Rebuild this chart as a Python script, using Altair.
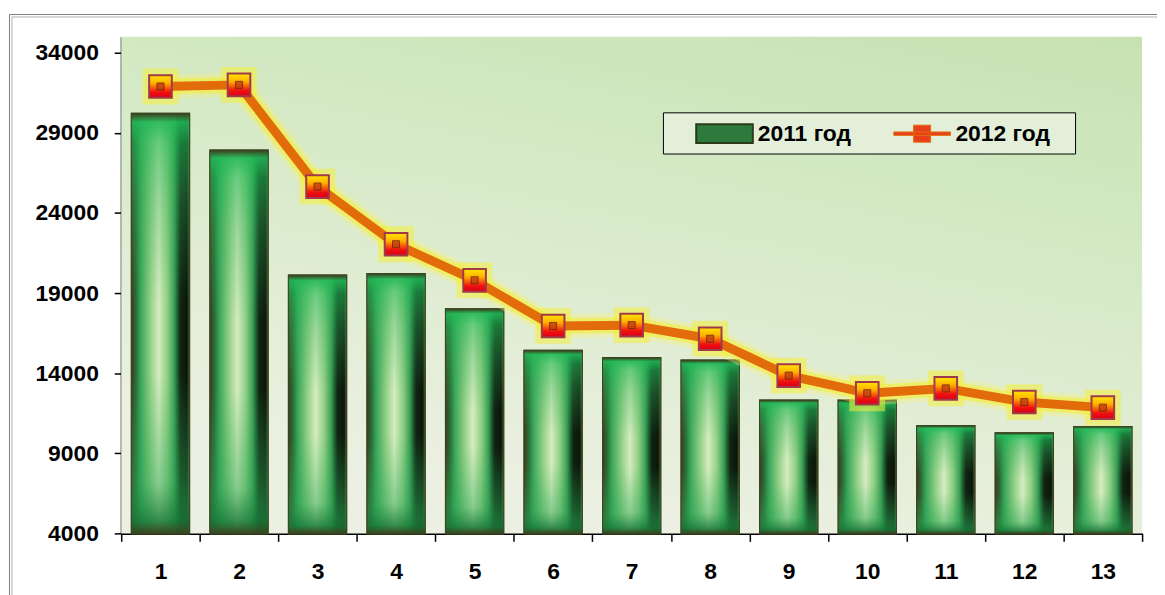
import altair as alt
import pandas as pd

categories = [str(i) for i in range(1, 14)]
values_2011 = [30200, 27900, 20100, 20200, 18000, 15400, 14950, 14800, 12300, 12300, 10700, 10250, 10650]
values_2012 = [31900, 32000, 25650, 22050, 19800, 16950, 17000, 16150, 13850, 12750, 13050, 12200, 11850]
series_names = ["2011 год", "2012 год"]
y_ticks = [4000, 9000, 14000, 19000, 24000, 29000, 34000]

df = pd.DataFrame({
    "cat": categories,
    "v2011": values_2011,
    "v2012": values_2012,
    "s1": series_names[0],
    "s2": series_names[1],
})

W, H = 1028, 500
FONT = "Liberation Sans"
FS = 23

x_enc = alt.X("cat:O", sort=categories, scale=alt.Scale(paddingInner=0, paddingOuter=0),
              axis=alt.Axis(title=None, labelAngle=0, tickBand="extent", tickSize=8, tickWidth=1.5,
                            tickColor="black", domainColor="black", domainWidth=2,
                            labelFont=FONT, labelFontSize=FS, labelFontWeight="bold",
                            labelColor="black", labelPadding=19))
y_scale = alt.Scale(domain=[4000, 35000], nice=False, zero=False)
y_axis = alt.Axis(title=None, values=y_ticks, format="d", grid=False, tickSize=7, tickWidth=1.5,
                  tickColor="black", domainColor="black", domainWidth=2,
                  labelFont=FONT, labelFontSize=FS, labelFontWeight="bold",
                  labelColor="black", labelPadding=16)

base = alt.Chart(df)
one = alt.Data(values=[{"k": 1}])

bg = alt.Chart(one).mark_rect(
    fill=alt.LinearGradient(gradient="linear", x1=1, y1=0, x2=0.6, y2=1,
                            stops=[alt.GradientStop(color="#c7e2b2", offset=0),
                                   alt.GradientStop(color="#d6eac7", offset=0.45),
                                   alt.GradientStop(color="#ecf0e2", offset=1)])
).encode(x=alt.value(0), x2=alt.value(W), y=alt.value(0), y2=alt.value(H))

legend_box = alt.Chart(one).mark_rect(fill="#e3efd8", stroke="black", strokeWidth=1).encode(
    x=alt.value(546), x2=alt.value(961), y=alt.value(76.5), y2=alt.value(118))

BW = alt.RelativeBandSize(0.73)

bars_base = base.mark_bar(width=BW, stroke="#3a4420", strokeWidth=2).encode(
    x=x_enc,
    y=alt.Y("v2011:Q", scale=y_scale, axis=y_axis),
    y2=alt.datum(4000),
    fill=alt.Fill("s1:N", scale=alt.Scale(domain=[series_names[0]], range=["#2c7a3c"]),
                  legend=alt.Legend(title=None, orient="none", legendX=596, legendY=86, padding=0,
                                    symbolType="M-3,-1H3V1H-3Z", symbolSize=361,
                                    symbolStrokeColor="#2d3a18", symbolStrokeWidth=2,
                                    labelFont=FONT, labelFontSize=FS, labelFontWeight="bold",
                                    labelColor="black", labelOffset=22)),
)

bars_grad = base.mark_bar(
    width=BW,
    fill=alt.LinearGradient(gradient="linear", x1=0, y1=0, x2=1, y2=0,
                            stops=[alt.GradientStop(color="#3a4420", offset=0),
                                   alt.GradientStop(color="#2a6a36", offset=0.07),
                                   alt.GradientStop(color="#37a457", offset=0.15),
                                   alt.GradientStop(color="#8fcf85", offset=0.32),
                                   alt.GradientStop(color="#d6ecbf", offset=0.47),
                                   alt.GradientStop(color="#8fcf85", offset=0.62),
                                   alt.GradientStop(color="#3a9e56", offset=0.74),
                                   alt.GradientStop(color="#1c5a2c", offset=0.8),
                                   alt.GradientStop(color="#0f2412", offset=0.85),
                                   alt.GradientStop(color="#0b160a", offset=0.96),
                                   alt.GradientStop(color="#2a3318", offset=1)]),
    stroke="#3a4420", strokeWidth=2,
).encode(x=x_enc, y=alt.Y("v2011:Q", scale=y_scale), y2=alt.datum(4000))

bars_shade = base.mark_bar(
    width=BW,
    fill=alt.LinearGradient(gradient="linear", x1=0, y1=0, x2=0, y2=1,
                            stops=[alt.GradientStop(color="rgba(58,68,32,1)", offset=0),
                                   alt.GradientStop(color="rgba(34,184,88,0.9)", offset=0.02),
                                   alt.GradientStop(color="rgba(34,184,88,0.6)", offset=0.07),
                                   alt.GradientStop(color="rgba(50,175,90,0.35)", offset=0.2),
                                   alt.GradientStop(color="rgba(50,175,90,0.0)", offset=0.45),
                                   alt.GradientStop(color="rgba(50,175,90,0.0)", offset=0.62),
                                   alt.GradientStop(color="rgba(45,165,85,0.45)", offset=0.88),
                                   alt.GradientStop(color="rgba(26,122,58,0.85)", offset=0.97),
                                   alt.GradientStop(color="rgba(58,68,32,1)", offset=1)]),
    strokeWidth=0,
).encode(x=x_enc, y=alt.Y("v2011:Q", scale=y_scale), y2=alt.datum(4000))

glow_wide = base.mark_line(color="#f6f27a", strokeWidth=24, opacity=0.35, strokeJoin="round").encode(
    x=x_enc, y=alt.Y("v2012:Q", scale=y_scale))
glow_line = base.mark_line(color="#f4ee3a", strokeWidth=16, opacity=0.6, strokeJoin="round").encode(
    x=x_enc, y=alt.Y("v2012:Q", scale=y_scale))
glow_pts = base.mark_square(size=1300, color="#f4ee3a", opacity=0.55).encode(
    x=x_enc, y=alt.Y("v2012:Q", scale=y_scale))

line = base.mark_line(strokeWidth=9, strokeJoin="round").encode(
    x=x_enc,
    y=alt.Y("v2012:Q", scale=y_scale),
    stroke=alt.Stroke("s2:N", scale=alt.Scale(domain=[series_names[1]], range=["#e36c0a"]),
                      legend=alt.Legend(title=None, orient="none", legendX=795, legendY=86, padding=0,
                                        symbolType="M-3,-0.18H3V0.18H-3Z M-0.9,-0.9H0.9V0.9H-0.9Z",
                                        symbolSize=361, symbolFillColor="#e8401a", symbolStrokeWidth=1,
                                        labelFont=FONT, labelFontSize=FS, labelFontWeight="bold",
                                        labelColor="black", labelOffset=22)),
)

pts = base.mark_square(
    size=520, opacity=1, stroke="#a03a4a", strokeWidth=2,
    fill=alt.LinearGradient(gradient="linear", x1=0, y1=0, x2=0, y2=1,
                            stops=[alt.GradientStop(color="#ffe600", offset=0),
                                   alt.GradientStop(color="#ffb000", offset=0.35),
                                   alt.GradientStop(color="#f01010", offset=0.75),
                                   alt.GradientStop(color="#d8001a", offset=1)]),
).encode(x=x_enc, y=alt.Y("v2012:Q", scale=y_scale))

pts_inner = base.mark_square(size=50, fill="#c04010", stroke="#6a2010", strokeWidth=1, opacity=0.8).encode(
    x=x_enc, y=alt.Y("v2012:Q", scale=y_scale))

frame_outer = alt.Chart(one).mark_rect(fill="transparent", stroke="#7f7f7f", strokeWidth=1).encode(
    x=alt.value(-112.5), x2=alt.value(1070), y=alt.value(-22.5), y2=alt.value(600))
frame_inner = alt.Chart(one).mark_rect(fill="transparent", stroke="#b0b0b0", strokeWidth=1).encode(
    x=alt.value(-110), x2=alt.value(1070), y=alt.value(-20), y2=alt.value(600))

chart = alt.layer(
    bg, legend_box, bars_base, bars_grad, bars_shade,
    glow_wide, glow_line, glow_pts, line, pts, pts_inner,
    frame_outer, frame_inner,
).resolve_legend(fill="independent", stroke="independent").properties(
    width=W, height=H,
    autosize=alt.AutoSizeParams(type="none"),
    padding={"left": 114, "top": 27, "right": 15, "bottom": 60},
    background="white",
).configure_view(stroke=None)

chart.save("out.html", embed_options={"renderer": "svg", "actions": False})
